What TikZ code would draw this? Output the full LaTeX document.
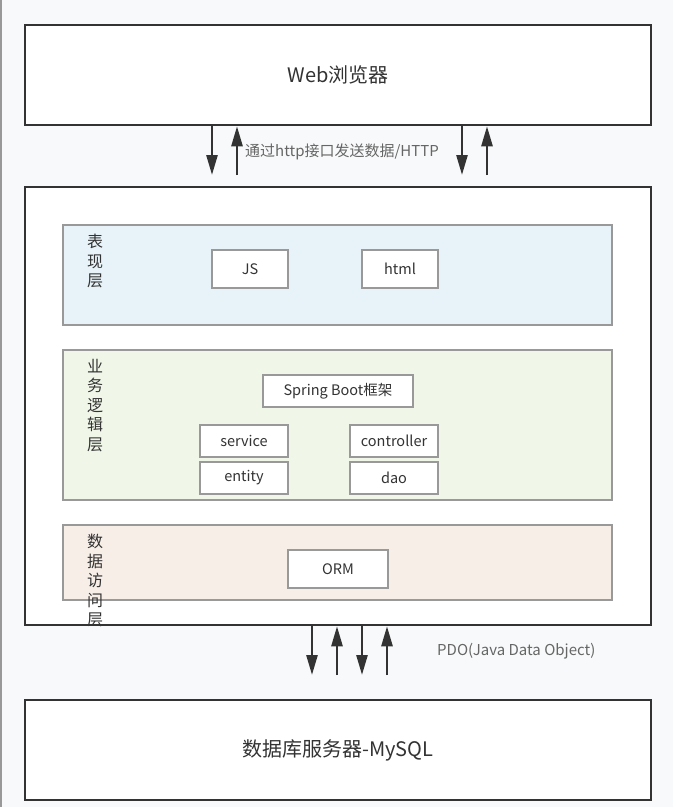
\documentclass[tikz,border=0pt]{standalone}
\usepackage{fontspec}
\setmainfont{Noto Sans CJK SC}
\usetikzlibrary{arrows.meta}
\definecolor{bgc}{RGB}{248,249,250}
\definecolor{darkc}{RGB}{51,51,51}
\definecolor{greyc}{RGB}{153,153,153}
\definecolor{bluec}{RGB}{231,243,249}
\definecolor{greenc}{RGB}{240,247,233}
\definecolor{peachc}{RGB}{247,238,232}
\begin{document}
\begin{tikzpicture}[x=1pt,y=-1pt,
  outer/.style={draw=darkc,line width=2.5pt,fill=white,minimum width=626pt,inner sep=0pt,font=\fontsize{20}{24}\selectfont,text=darkc},
  layer/.style={draw=greyc,line width=2pt,minimum width=549pt,inner sep=0pt},
  part/.style={draw=greyc,line width=2pt,fill=white,inner sep=0pt,font=\fontsize{14.5}{17}\selectfont,text=darkc},
  vlabel/.style={anchor=north,align=center,inner sep=0pt,font=\fontsize{16}{19.5}\selectfont,text=darkc},
  arr/.style={draw=darkc,line width=2.5pt,-{Triangle[length=20pt,width=11pt]}},
  note/.style={anchor=west,inner sep=0pt,font=\fontsize{15}{17}\selectfont,text=darkc!75}]
  \useasboundingbox[fill=bgc] (0,0) rectangle (673,807);
  \draw[greyc,line width=1.5pt] (1,0) -- (1,807);
  \node[outer,minimum height=100pt] (web) at (338,75) {Web浏览器};
  \node[outer,minimum height=438pt] (main) at (338,406) {};
  \node[outer,minimum height=100pt] (db) at (338,750) {数据库服务器-MySQL};
  \node[layer,fill=bluec,minimum height=100pt] (pres) at (337.5,275) {};
  \node[layer,fill=greenc,minimum height=150pt] (biz) at (337.5,425) {};
  \node[layer,fill=peachc,minimum height=75pt] (data) at (337.5,562.5) {};
  \node[vlabel] (presl) at (95,234) {表\\现\\层};
  \node[vlabel] (bizl) at (95,359) {业\\务\\逻\\辑\\层};
  \node[vlabel] (datal) at (95,534) {数\\据\\访\\问\\层};
  \node[part,minimum width=76pt,minimum height=38pt] (js) at (250,269) {JS};
  \node[part,minimum width=76pt,minimum height=38pt] (html) at (400,269) {html};
  \node[part,minimum width=150pt,minimum height=32pt] (spring) at (338,391) {Spring Boot框架};
  \node[part,minimum width=88pt,minimum height=32pt] (service) at (244,441) {service};
  \node[part,minimum width=88pt,minimum height=32pt] (ctrl) at (394,441) {controller};
  \node[part,minimum width=88pt,minimum height=32pt] (entity) at (244,478) {entity};
  \node[part,minimum width=88pt,minimum height=32pt] (dao) at (394,478) {dao};
  \node[part,minimum width=100pt,minimum height=38pt] (orm) at (338,569) {ORM};
  \coordinate (t1) at (212,175);
  \coordinate (t2) at (237,175);
  \coordinate (t3) at (462,175);
  \coordinate (t4) at (487,175);
  \draw[arr] (web.south -| t1) -- (t1);
  \draw[arr] (t2) -- (web.south -| t2);
  \draw[arr] (web.south -| t3) -- (t3);
  \draw[arr] (t4) -- (web.south -| t4);
  \node[note] (http) at (245,152) {通过http接口发送数据/HTTP};
  \coordinate (b1) at (312,675);
  \coordinate (b2) at (337,675);
  \coordinate (b3) at (362,675);
  \coordinate (b4) at (387,675);
  \draw[arr] (main.south -| b1) -- (b1);
  \draw[arr] (b2) -- (main.south -| b2);
  \draw[arr] (main.south -| b3) -- (b3);
  \draw[arr] (b4) -- (main.south -| b4);
  \node[note] (pdo) at (437,651) {PDO(Java Data Object)};
\end{tikzpicture}
\end{document}
